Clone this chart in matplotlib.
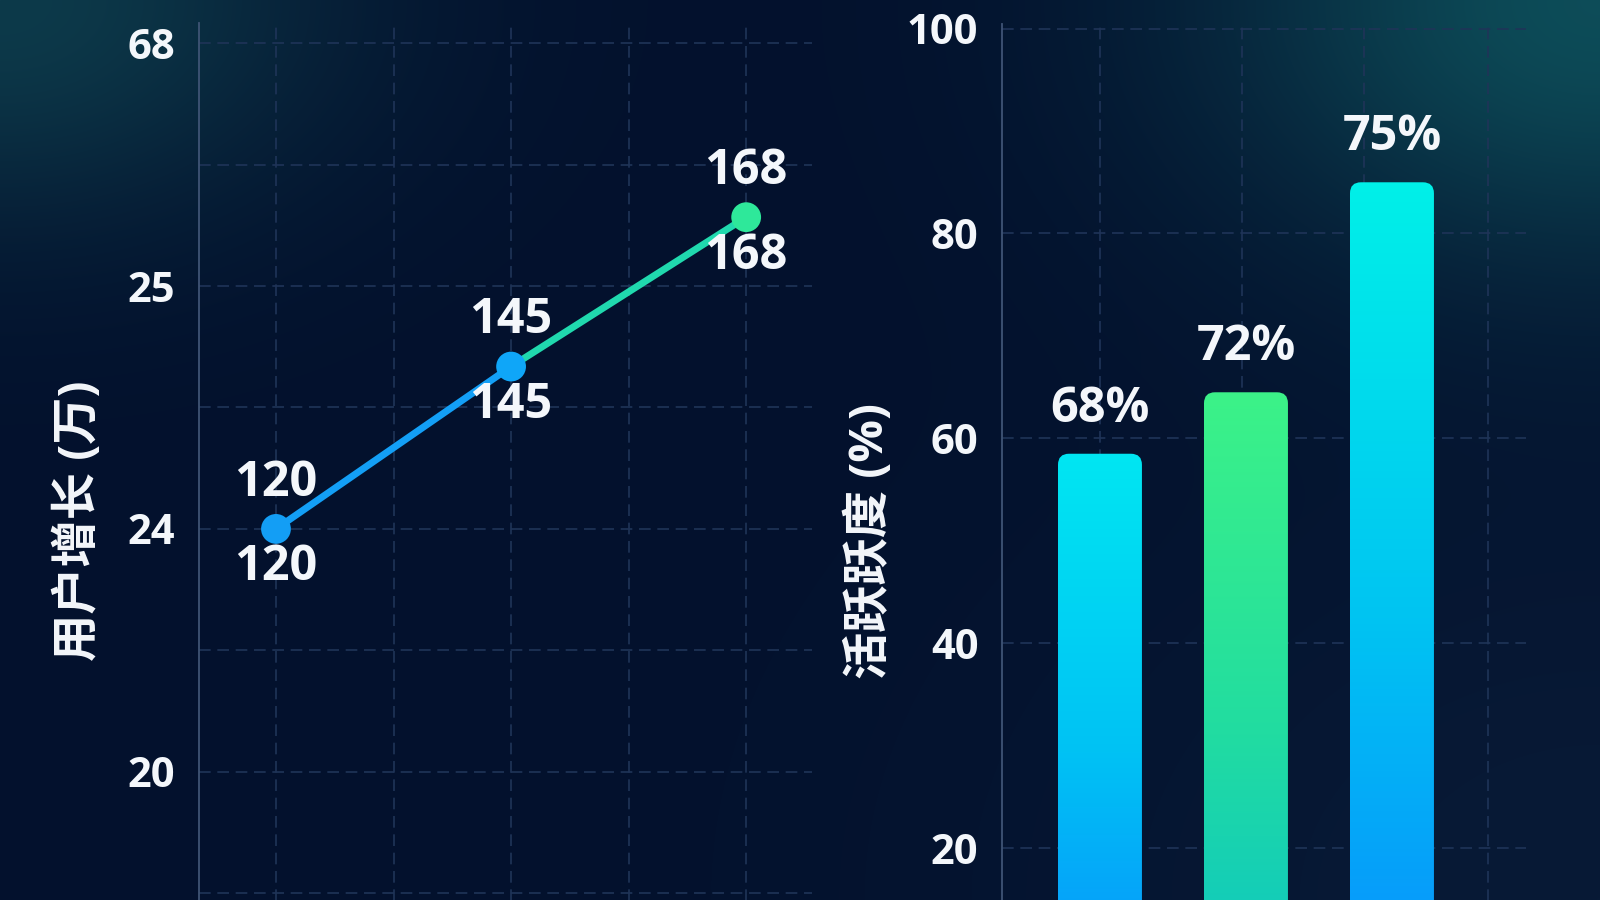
import numpy as np
import matplotlib
matplotlib.use('Agg')
import matplotlib.pyplot as plt
from matplotlib.patches import FancyBboxPatch
from matplotlib.colors import LinearSegmentedColormap, to_rgb
from matplotlib.ticker import FixedLocator

plt.rcParams['font.family'] = ['Open Sans', 'Noto Sans CJK SC', 'DejaVu Sans']

#========================= Data ===============================================
# left: user growth line
growth_values = [120, 145, 168]
growth_labels = ['120', '145', '168']
growth_point_colors = ['#139ef5', '#0fa6f8', '#2ee89a']
growth_seg_colors = ['#139ff6', '#20d9ae']
left_tick_labels = ['68', '25', '24', '20']
left_ylabel = '用户增长 (万)'

# right: activity bars
activity_values = [58.5, 64.5, 85.0]
activity_labels = ['68%', '72%', '75%']
right_ticks = [20, 40, 60, 80, 100]
right_ylabel = '活跃跃度 (%)'
bar_gradients = [
    ['#0b86ff', '#00c2f4', '#00e6f2'],
    ['#08c0cc', '#22dda0', '#3cf288'],
    ['#0a88ff', '#00c4f2', '#00f0e8'],
]

W, H = 1600, 900
TXT = '#f4f7fb'
GRID = '#1f3458'

#========================= Background =========================================
fig = plt.figure(figsize=(16, 9), dpi=100)
fig.patch.set_facecolor('#04112c')

yy, xx = np.mgrid[0:H, 0:W].astype(float)
base = np.array(to_rgb('#03112d'))
bg = np.ones((H, W, 3)) * base
glow_tl = np.exp(-((xx / 330.0) ** 2 + (yy / 220.0) ** 2))
glow_tr = np.exp(-(((W - xx) / 380.0) ** 2 + (yy / 260.0) ** 2))
glow_br = np.exp(-(((W - xx) / 600.0) ** 2 + ((H - yy) / 450.0) ** 2))
bg += glow_tl[..., None] * (np.array(to_rgb('#0d3a4a')) - base)
bg += glow_tr[..., None] * (np.array(to_rgb('#0d4c58')) - base)
bg += glow_br[..., None] * (np.array(to_rgb('#081a36')) - base)
bg = np.clip(bg, 0, 1)

bg_ax = fig.add_axes([0, 0, 1, 1], zorder=-10)
bg_ax.imshow(bg, aspect='auto', extent=[0, 1, 0, 1], interpolation='bilinear')
bg_ax.axis('off')


def style_axis(ax):
    ax.set_facecolor('none')
    for s in ['top', 'right', 'bottom']:
        ax.spines[s].set_visible(False)
    ax.spines['left'].set_color('#3f5475')
    ax.spines['left'].set_linewidth(1.3)
    ax.tick_params(axis='both', which='both', length=0)
    ax.tick_params(axis='y', pad=17, labelsize=30, labelcolor=TXT)
    ax.set_xticklabels([])
    ax.set_axisbelow(True)
    ax.grid(which='both', color=GRID, linewidth=1.2, linestyle=(0, (7, 4)))
    for lab in ax.get_yticklabels():
        lab.set_fontweight('bold')


#========================= Left: line chart ===================================
ax1 = fig.add_axes([199 / W, 1 - 1053 / H, (812 - 199) / W, (1053 - 23) / H])
step = 18.7
ax1.set_xlim(-0.655, 4.56)
ax1.set_ylim(39.3, 197.9)
major = [120 + step * k for k in (4, 2, 0, -2)]
minor = [120 + step * k for k in (3, 1, -1, -3)]
ax1.set_yticks(major)
ax1.set_yticklabels(left_tick_labels)
ax1.yaxis.set_minor_locator(FixedLocator(minor))
ax1.set_xticks(range(5))
style_axis(ax1)

gx = np.arange(len(growth_values)) * 2
for i in range(len(growth_values) - 1):
    ax1.plot(gx[i:i + 2], growth_values[i:i + 2], color=growth_seg_colors[i],
             lw=5, solid_capstyle='round', zorder=3)
ax1.scatter(gx, growth_values, s=460, c=growth_point_colors, zorder=4,
            edgecolors='none')
for x, v, t in zip(gx, growth_values, growth_labels):
    ax1.annotate(t, (x, v), xytext=(0, 33), textcoords='offset points',
                 ha='center', va='center', fontsize=35, fontweight='bold',
                 color=TXT, zorder=5)
    ax1.annotate(t, (x, v), xytext=(0, -28), textcoords='offset points',
                 ha='center', va='center', fontsize=35, fontweight='bold',
                 color=TXT, zorder=5)

fig.text(79 / W, 1 - 521 / H, left_ylabel, rotation=90, ha='center',
         va='center', fontsize=34, fontweight='bold', color=TXT)

#========================= Right: bar chart ===================================
ax2 = fig.add_axes([1002 / W, 1 - 1053 / H, (1526 - 1002) / W, (1053 - 23.5) / H])
xlim2 = (-0.671, 2.918)
ylim2 = (0, 100.5)
ax2.set_xlim(*xlim2)
ax2.set_ylim(*ylim2)
ax2.set_yticks(right_ticks)
ax2.set_yticklabels([str(t) for t in right_ticks])
ax2.set_xticks([0, 0.97, 1.81, 2.66])
style_axis(ax2)

bars = ax2.bar(range(len(activity_values)), activity_values, width=0.575,
               color='none', edgecolor='none')
grad = np.linspace(0, 1, 256).reshape(-1, 1)
for b, cols in zip(bars, bar_gradients):
    x0, w, h = b.get_x(), b.get_width(), b.get_height()
    patch = FancyBboxPatch((x0, 0), w, h,
                           boxstyle='round,pad=0,rounding_size=0.075',
                           mutation_aspect=14.3, fc='none', ec='none')
    ax2.add_patch(patch)
    cmap = LinearSegmentedColormap.from_list('g', cols)
    im = ax2.imshow(grad, extent=[x0, x0 + w, 0, h], origin='lower',
                    aspect='auto', cmap=cmap, zorder=2)
    im.set_clip_path(patch)

for b, t in zip(bars, activity_labels):
    ax2.annotate(t, (b.get_x() + b.get_width() / 2, b.get_height()),
                 xytext=(0, 32), textcoords='offset points', ha='center',
                 va='center', fontsize=35, fontweight='bold', color=TXT)
ax2.set_xlim(*xlim2)
ax2.set_ylim(*ylim2)

fig.text(870 / W, 1 - 541 / H, right_ylabel, rotation=90, ha='center',
         va='center', fontsize=34, fontweight='bold', color=TXT)

fig.savefig('out.png', dpi=100)
